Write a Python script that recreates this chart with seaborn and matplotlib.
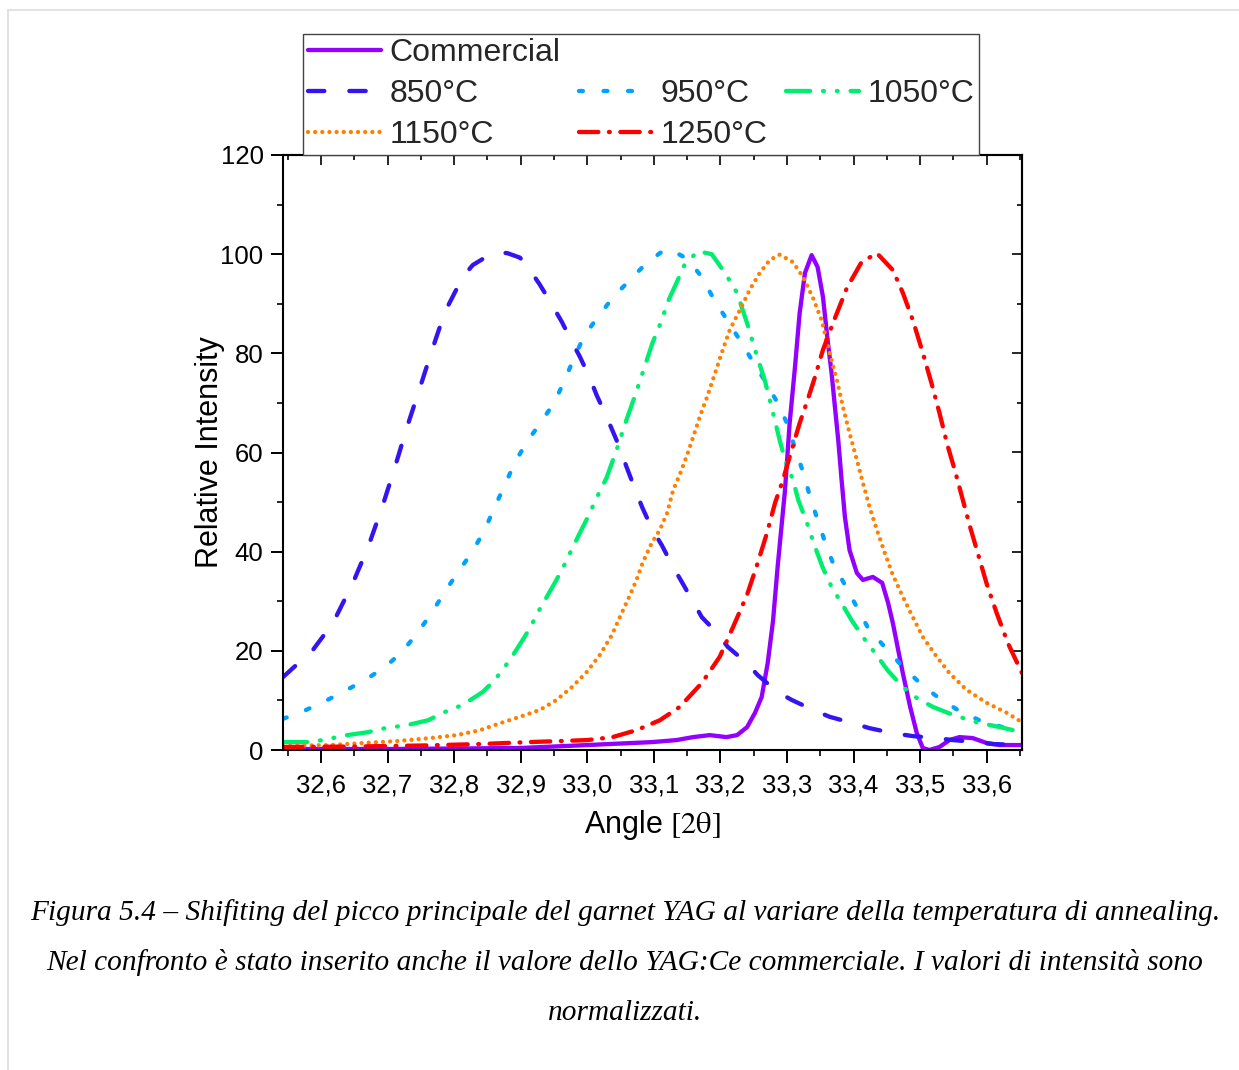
import numpy as np
import pandas as pd
import matplotlib
matplotlib.use("Agg")
import matplotlib.pyplot as plt
import seaborn as sns
from matplotlib.lines import Line2D
from matplotlib.ticker import MultipleLocator, FuncFormatter

# --- data (angle 2theta, relative intensity) ---
comm_x = [32.543, 32.700, 32.800, 32.899, 33.000, 33.098, 33.134, 33.159, 33.184, 33.209,
          33.225, 33.240, 33.252, 33.262, 33.271, 33.279, 33.286, 33.297, 33.304, 33.312,
          33.319, 33.327, 33.337, 33.346, 33.354, 33.361, 33.367, 33.372, 33.377, 33.382,
          33.387, 33.394, 33.405, 33.414, 33.429, 33.443, 33.452, 33.459, 33.467, 33.474,
          33.485, 33.495, 33.504, 33.514, 33.529, 33.544, 33.559, 33.579, 33.600, 33.620,
          33.653]
comm_y = [0.2, 0.2, 0.3, 0.4, 1.0, 1.6, 2.0, 2.6, 3.0, 2.6,
          3.0, 4.6, 7.5, 10.7, 17.5, 26.0, 37.0, 52.4, 65.9, 77.2,
          88.1, 96.2, 99.8, 97.4, 91.4, 82.7, 76.0, 69.2, 62.5, 54.5,
          47.0, 40.3, 35.7, 34.3, 34.9, 33.7, 29.6, 25.6, 20.2, 15.5,
          8.7, 3.4, 0.4, 0.0, 0.6, 2.0, 2.6, 2.4, 1.4, 1.0,
          1.0]

t850_x = [32.543, 32.588, 32.618, 32.648, 32.671, 32.692, 32.711, 32.729, 32.749, 32.767,
          32.786, 32.813, 32.828, 32.845, 32.864, 32.880, 32.899, 32.914, 32.929, 32.947,
          32.962, 32.977, 32.989, 33.004, 33.014, 33.029, 33.044, 33.059, 33.074, 33.083,
          33.098, 33.112, 33.129, 33.142, 33.159, 33.172, 33.195, 33.211, 33.240, 33.256,
          33.286, 33.307, 33.339, 33.364, 33.399, 33.424, 33.459, 33.489, 33.525, 33.549,
          33.585, 33.609, 33.653]
t850_y = [14.7, 20.2, 25.6, 33.7, 41.0, 49.0, 57.0, 65.0, 73.2, 80.7,
          88.3, 95.4, 97.8, 99.2, 100.4, 100.2, 99.3, 96.8, 93.8, 89.8,
          86.3, 82.3, 79.3, 75.0, 71.6, 67.2, 62.5, 57.1, 51.8, 48.8,
          44.4, 41.3, 36.9, 33.9, 29.9, 26.8, 23.6, 20.8, 17.5, 15.1,
          11.7, 10.1, 8.1, 6.7, 5.4, 4.4, 3.4, 2.8, 2.4, 2.0,
          1.6, 1.2, 1.0]

t950_x = [32.543, 32.568, 32.601, 32.633, 32.666, 32.696, 32.722, 32.746, 32.767, 32.786,
          32.806, 32.827, 32.846, 32.861, 32.876, 32.891, 32.909, 32.930, 32.951, 32.966,
          32.981, 32.996, 33.016, 33.038, 33.064, 33.089, 33.110, 33.124, 33.151, 33.172,
          33.189, 33.210, 33.229, 33.249, 33.267, 33.286, 33.301, 33.312, 33.324, 33.334,
          33.345, 33.357, 33.369, 33.387, 33.405, 33.421, 33.444, 33.469, 33.495, 33.522,
          33.556, 33.589, 33.624, 33.653]
t950_y = [6.3, 7.5, 9.5, 11.7, 14.1, 16.7, 19.8, 23.8, 27.8, 31.9,
          35.9, 39.9, 44.4, 49.0, 53.4, 57.9, 62.1, 66.0, 70.2, 74.6,
          79.3, 83.7, 87.3, 91.2, 94.8, 98.2, 100.3, 101.0, 99.0, 95.4,
          91.2, 86.7, 82.7, 78.3, 74.4, 70.0, 65.6, 60.9, 56.1, 51.4,
          46.8, 42.0, 37.7, 33.3, 28.8, 24.8, 21.2, 17.5, 14.1, 11.1,
          8.1, 6.0, 4.6, 3.6]

t1050_x = [32.543, 32.579, 32.603, 32.639, 32.671, 32.696, 32.729, 32.761, 32.783, 32.813,
           32.843, 32.861, 32.884, 32.903, 32.914, 32.926, 32.947, 32.962, 32.974, 32.989,
           33.001, 33.016, 33.029, 33.044, 33.059, 33.071, 33.083, 33.098, 33.112, 33.121,
           33.134, 33.146, 33.166, 33.187, 33.207, 33.225, 33.241, 33.252, 33.267, 33.279,
           33.289, 33.297, 33.309, 33.317, 33.330, 33.342, 33.354, 33.367, 33.382, 33.397,
           33.414, 33.432, 33.451, 33.474, 33.495, 33.519, 33.549, 33.585, 33.620, 33.653]
t1050_y = [1.6, 1.6, 2.0, 3.0, 3.6, 4.4, 5.0, 6.0, 7.5, 9.1,
           11.7, 14.1, 18.2, 22.2, 24.6, 27.8, 32.7, 36.3, 39.7, 43.8,
           47.0, 51.4, 54.9, 60.5, 66.6, 71.2, 76.0, 82.1, 86.7, 90.4,
           94.2, 97.8, 100.6, 100.0, 96.2, 92.2, 85.7, 80.7, 74.4, 68.0,
           62.5, 58.5, 54.5, 50.4, 45.8, 41.0, 36.7, 32.9, 29.6, 26.2,
           22.8, 19.6, 16.1, 12.7, 10.5, 8.7, 7.1, 5.6, 4.6, 3.6]

t1150_x = [32.543, 32.614, 32.663, 32.714, 32.764, 32.804, 32.839, 32.869, 32.899, 32.929,
           32.954, 32.977, 32.999, 33.019, 33.037, 33.049, 33.061, 33.074, 33.083, 33.097,
           33.109, 33.120, 33.129, 33.140, 33.151, 33.159, 33.169, 33.180, 33.192, 33.202,
           33.214, 33.229, 33.244, 33.259, 33.274, 33.289, 33.309, 33.324, 33.339, 33.352,
           33.364, 33.375, 33.384, 33.394, 33.405, 33.414, 33.424, 33.435, 33.447, 33.459,
           33.474, 33.489, 33.504, 33.525, 33.544, 33.570, 33.600, 33.630, 33.653]
t1150_y = [0.8, 1.0, 1.4, 1.8, 2.4, 3.0, 4.0, 5.4, 6.7, 8.1,
           10.1, 12.7, 15.7, 19.2, 23.2, 26.8, 30.3, 34.3, 37.7, 41.8,
           44.4, 47.8, 52.4, 55.9, 59.9, 63.1, 67.2, 71.2, 76.0, 80.1,
           84.7, 88.7, 92.8, 96.2, 98.8, 99.9, 98.4, 95.4, 91.2, 86.7,
           80.1, 74.6, 69.2, 63.9, 58.5, 53.9, 49.0, 44.4, 39.7, 35.3,
           30.9, 26.8, 22.8, 18.8, 15.5, 12.1, 9.5, 7.5, 5.6]

t1250_x = [32.543, 32.650, 32.750, 32.839, 32.914, 33.000, 33.038, 33.074, 33.109, 33.139,
           33.172, 33.199, 33.219, 33.240, 33.255, 33.270, 33.282, 33.294, 33.307, 33.319,
           33.331, 33.342, 33.354, 33.372, 33.390, 33.412, 33.435, 33.459, 33.474, 33.489,
           33.504, 33.517, 33.529, 33.541, 33.553, 33.564, 33.575, 33.587, 33.600, 33.615,
           33.632, 33.653]
t1250_y = [0.6, 0.7, 0.9, 1.2, 1.6, 2.0, 2.6, 4.0, 6.0, 8.7,
           13.5, 18.8, 24.8, 31.3, 37.3, 43.8, 49.8, 54.5, 60.5, 65.9,
           70.6, 75.2, 80.7, 87.1, 93.2, 98.4, 100.2, 96.8, 92.2, 86.7,
           80.1, 74.0, 68.0, 61.5, 56.0, 50.5, 45.0, 39.5, 33.5, 27.6,
           21.5, 15.5]

labels = ["Commercial", "850°C", "950°C", "1050°C", "1150°C", "1250°C"]
colors = ["#9400ff", "#3414f2", "#00a2ff", "#00ee70", "#ff8000", "#ff0000"]
styles = ["-", (0, (3.8, 5.8)), (0, (0.9, 4.8)), (0, (5.6, 3.0, 0.2, 3.0, 0.2, 3.0)),
          (0, (0.01, 1.65)), (0, (4.5, 2.45, 0.2, 2.45))]
series = [(comm_x, comm_y), (t850_x, t850_y), (t950_x, t950_y),
          (t1050_x, t1050_y), (t1150_x, t1150_y), (t1250_x, t1250_y)]

caption = ["Figura 5.4 – Shifiting del picco principale del garnet YAG al variare della temperatura di annealing.",
           "Nel confronto è stato inserito anche il valore dello YAG:Ce commerciale. I valori di intensità sono",
           "normalizzati."]

sns.set_theme(style="ticks")
plt.rcParams["font.family"] = ["Liberation Sans", "DejaVu Sans"]
plt.rcParams["mathtext.fontset"] = "stix"

W, H = 1239, 1070
fig = plt.figure(figsize=(W / 100, H / 100), dpi=100)
ax = fig.add_axes([283 / W, 1 - 750 / H, (1022 - 283) / W, (750 - 155) / H])

for (xs, ys), lab, c, ls in zip(series, labels, colors, styles):
    sns.lineplot(x=xs, y=ys, ax=ax, color=c, linewidth=3.1, linestyle=ls,
                 estimator=None, sort=False, legend=False,
                 dash_capstyle="round", solid_capstyle="round")

ax.set_xlim(32.543, 33.653)
ax.set_ylim(0, 120)
ax.xaxis.set_major_locator(MultipleLocator(0.1))
ax.xaxis.set_minor_locator(MultipleLocator(0.05))
ax.yaxis.set_major_locator(MultipleLocator(20))
ax.yaxis.set_minor_locator(MultipleLocator(10))
ax.xaxis.set_major_formatter(FuncFormatter(lambda v, p: f"{v:.1f}".replace(".", ",")))
ax.tick_params(which="major", direction="out", length=9, width=1.4, labelsize=18.5, pad=5,
               colors="black")
ax.tick_params(axis="x", which="major", pad=8)
ax.tick_params(which="minor", direction="out", length=4.5, width=1.4)
for s in ax.spines.values():
    s.set_visible(True)
    s.set_linewidth(1.5)
    s.set_color("black")

top = ax.secondary_xaxis("top")
top.xaxis.set_major_locator(MultipleLocator(0.1))
top.xaxis.set_minor_locator(MultipleLocator(0.05))
top.tick_params(which="major", direction="in", length=7, width=1.4, labeltop=False)
top.tick_params(which="minor", direction="in", length=3.5, width=1.4)
top.spines["top"].set_linewidth(1.5)
right = ax.secondary_yaxis("right")
right.yaxis.set_major_locator(MultipleLocator(20))
right.yaxis.set_minor_locator(MultipleLocator(10))
right.tick_params(which="major", direction="in", length=7, width=1.4, labelright=False)
right.tick_params(which="minor", direction="in", length=3.5, width=1.4)
right.spines["right"].set_linewidth(1.5)

ax.set_xlabel("Angle $\\mathrm{[2\\theta]}$", fontsize=22, labelpad=7.5, color="black")
ax.set_ylabel("Relative Intensity", fontsize=22, labelpad=-3, color="black")

lines = ax.get_lines()
blank = Line2D([], [], color="none")
handles = [lines[0], lines[1], lines[4], blank, lines[2], lines[5], blank, lines[3], blank]
hlabels = [labels[0], labels[1], labels[4], "", labels[2], labels[5], "", labels[3], ""]
leg = ax.legend(handles, hlabels, ncol=3, loc="lower left",
                bbox_to_anchor=(303 / W, 1 - 155 / H), bbox_transform=fig.transFigure,
                borderaxespad=0, frameon=True, fancybox=False, framealpha=1,
                edgecolor="#444444", fontsize=23, handlelength=2.3, handletextpad=0.25,
                columnspacing=0.58, borderpad=0.15, labelspacing=0.34)
leg.get_frame().set_linewidth(1.0)

for i, line in enumerate(caption):
    fig.text(625 / W, 1 - (913 + 50 * i) / H, line, ha="center", va="center",
             family="Liberation Serif", style="italic", fontsize=21.2, color="black")

fig.add_artist(Line2D([8 / W, 8 / W], [0, 1 - 10 / H], transform=fig.transFigure,
                      color="#dddddd", lw=1.2))
fig.add_artist(Line2D([8 / W, 1], [1 - 10 / H, 1 - 10 / H], transform=fig.transFigure,
                      color="#dddddd", lw=1.2))

fig.savefig("out.png", dpi=100, facecolor="white")
